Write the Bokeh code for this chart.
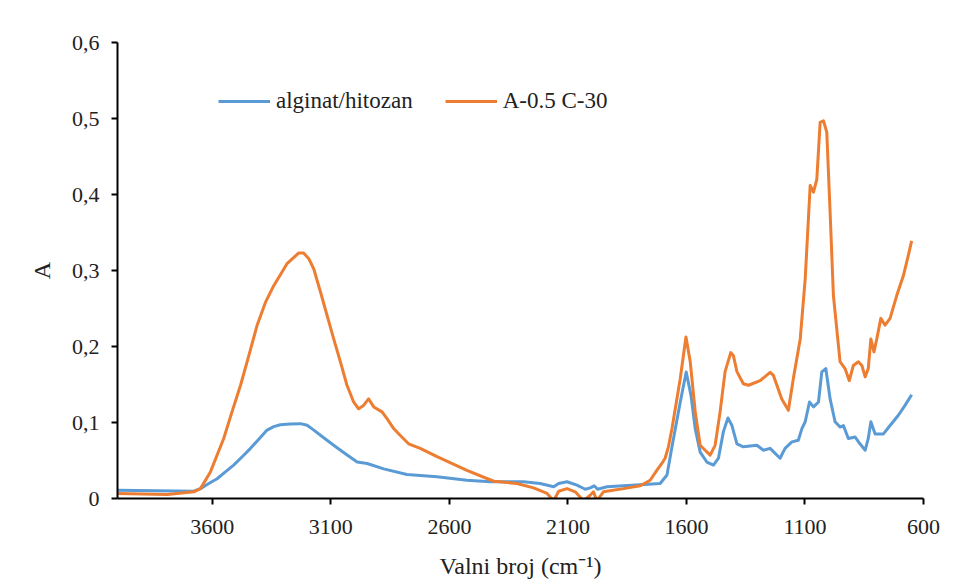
from bokeh.plotting import figure
from bokeh.models import Range1d, FixedTicker, CustomJSTickFormatter, Legend, LegendItem
from bokeh.embed import file_html
from bokeh.resources import INLINE

# Wavenumber (cm-1) and absorbance for each series
wn_alg = [4000, 3678, 3650, 3615, 3580, 3545, 3510, 3474, 3439, 3404, 3369, 3341, 3313, 3271,
          3228, 3200, 3172, 3130, 3088, 3039, 2989, 2947, 2877,
          2779, 2652, 2526, 2427, 2287, 2217, 2160, 2139, 2104, 2062, 2027, 2006, 1989, 1975,
          1935, 1795, 1711, 1682, 1661, 1626, 1601, 1581, 1563, 1542, 1514, 1486, 1465, 1444,
          1425, 1408, 1387, 1360, 1303, 1275, 1247, 1205, 1184, 1155, 1128, 1113, 1099, 1081,
          1064, 1043, 1029, 1012, 994, 973, 952, 938, 917, 889, 868, 846, 833, 822, 804, 769,
          741, 706, 678, 650]
a_alg = [0.011, 0.0096, 0.013, 0.0197, 0.026, 0.035, 0.044, 0.055, 0.066, 0.078, 0.090, 0.0946,
         0.097, 0.098, 0.0985, 0.0963, 0.090, 0.080, 0.070, 0.059, 0.048,
         0.046, 0.039, 0.0315, 0.0285, 0.024, 0.022, 0.022, 0.0197, 0.0154, 0.0197, 0.022, 0.0175,
         0.0122, 0.014, 0.0167, 0.0122, 0.0154, 0.018, 0.0197, 0.031, 0.068, 0.127, 0.1665, 0.136,
         0.092, 0.061, 0.048, 0.044, 0.053, 0.088, 0.106, 0.096, 0.072, 0.068, 0.070, 0.0635,
         0.066, 0.053, 0.066, 0.0745, 0.0766, 0.092, 0.101, 0.127, 0.1205, 0.127, 0.1665, 0.171,
         0.131, 0.101, 0.094, 0.096, 0.079, 0.081, 0.072, 0.0635, 0.079, 0.101, 0.085, 0.085,
         0.096, 0.1095, 0.1225, 0.1365]

wn_ac = [4000, 3790, 3678, 3650, 3608, 3552, 3517, 3481, 3446, 3411, 3376, 3341, 3306, 3285,
         3271, 3236, 3215, 3193, 3172, 3144, 3116, 3088, 3060,
         3032, 3004, 2983, 2962, 2941, 2919, 2884, 2863, 2835, 2807, 2772, 2723, 2652, 2526, 2413,
         2315, 2245, 2188,
         2160, 2139, 2104, 2069, 2034, 2006, 1992, 1978, 1950, 1865, 1795, 1753, 1725, 1700,
         1690, 1676, 1661, 1626, 1602, 1584, 1563, 1542, 1521, 1500, 1479, 1458, 1437, 1413,
         1402, 1387, 1360, 1338, 1289, 1247, 1233, 1198, 1170, 1149, 1120, 1099, 1078, 1064,
         1050, 1036, 1022, 1008, 994, 980, 952, 931, 913, 896, 875, 860, 846, 833, 822, 809,
         797, 780, 762, 741, 713, 685, 664, 650]
a_ac = [0.0066, 0.0053, 0.0088, 0.013, 0.035, 0.079, 0.114, 0.149, 0.188, 0.228, 0.258, 0.280,
        0.298, 0.309, 0.313, 0.323, 0.323, 0.3155, 0.302,
        0.272, 0.241, 0.210, 0.180, 0.149, 0.127, 0.118, 0.1225, 0.131, 0.1205, 0.114, 0.105,
        0.092, 0.083, 0.072, 0.066, 0.055, 0.037,
        0.0227, 0.0197, 0.014, 0.0066, -0.003, 0.0096, 0.013, 0.0088, -0.003, 0.0043, 0.0088,
        -0.003, 0.0088, 0.013, 0.0167, 0.024, 0.037, 0.048, 0.053, 0.068, 0.092, 0.158, 0.2125,
        0.18, 0.114, 0.070, 0.0635, 0.057, 0.070, 0.114, 0.167, 0.192, 0.188, 0.167, 0.151,
        0.149, 0.155, 0.166, 0.162, 0.131, 0.116, 0.158, 0.210, 0.289, 0.412, 0.403, 0.420,
        0.495, 0.497, 0.482, 0.377, 0.267, 0.180, 0.171, 0.155, 0.175, 0.180, 0.175, 0.160,
        0.171, 0.210, 0.193, 0.210, 0.237, 0.228, 0.237, 0.267, 0.293, 0.320, 0.339]

series_names = ["alginat/hitozan", "A-0.5 C-30"]
series_colors = ["#5B9BD5", "#ED7D31"]
x_ticks = [3600, 3100, 2600, 2100, 1600, 1100, 600]
y_ticks = [0, 0.1, 0.2, 0.3, 0.4, 0.5, 0.6]

FONT = "Liberation Serif"

p = figure(width=942, height=582, output_backend="svg", toolbar_location=None,
           x_range=Range1d(4000, 600), y_range=Range1d(0, 0.6),
           min_border_left=117, min_border_right=19, min_border_top=42, min_border_bottom=84)
p.outline_line_color = None
p.xgrid.visible = False
p.ygrid.visible = False

r1 = p.line(wn_alg, a_alg, line_color=series_colors[0], line_width=3, line_join="round")
r2 = p.line(wn_ac, a_ac, line_color=series_colors[1], line_width=3, line_join="round")

for ax in (p.xaxis[0], p.yaxis[0]):
    ax.axis_line_color = "black"
    ax.axis_line_width = 2
    ax.major_tick_line_color = "black"
    ax.major_tick_line_width = 2
    ax.major_tick_out = 6
    ax.major_tick_in = 0
    ax.minor_tick_line_color = None
    ax.major_label_text_font = FONT
    ax.major_label_text_font_size = "22px"
    ax.major_label_text_color = "#222222"
    ax.axis_label_text_font = FONT
    ax.axis_label_text_font_size = "24px"
    ax.axis_label_text_font_style = "normal"
    ax.axis_label_text_color = "#222222"

p.xaxis[0].ticker = FixedTicker(ticks=x_ticks)
p.yaxis[0].ticker = FixedTicker(ticks=y_ticks)
p.yaxis[0].formatter = CustomJSTickFormatter(code="return tick == 0 ? '0' : tick.toFixed(1).replace('.', ',');")
p.xaxis[0].axis_label = "Valni broj (cm\u207b\u00b9)"
p.yaxis[0].axis_label = "A"
p.xaxis[0].major_label_standoff = 15
p.yaxis[0].major_label_standoff = 12
p.xaxis[0].axis_label_standoff = 16
p.yaxis[0].axis_label_standoff = 14

legend = Legend(items=[LegendItem(label=series_names[0], renderers=[r1]),
                       LegendItem(label=series_names[1], renderers=[r2])],
                orientation="horizontal", location=(101, 384),
                background_fill_alpha=0, border_line_color=None,
                padding=0, margin=0, spacing=32, label_standoff=6, glyph_width=52,
                label_text_font=FONT, label_text_font_size="23px", label_text_color="#222222")
p.add_layout(legend, "center")

open("out.html", "w").write(file_html(p, INLINE))
